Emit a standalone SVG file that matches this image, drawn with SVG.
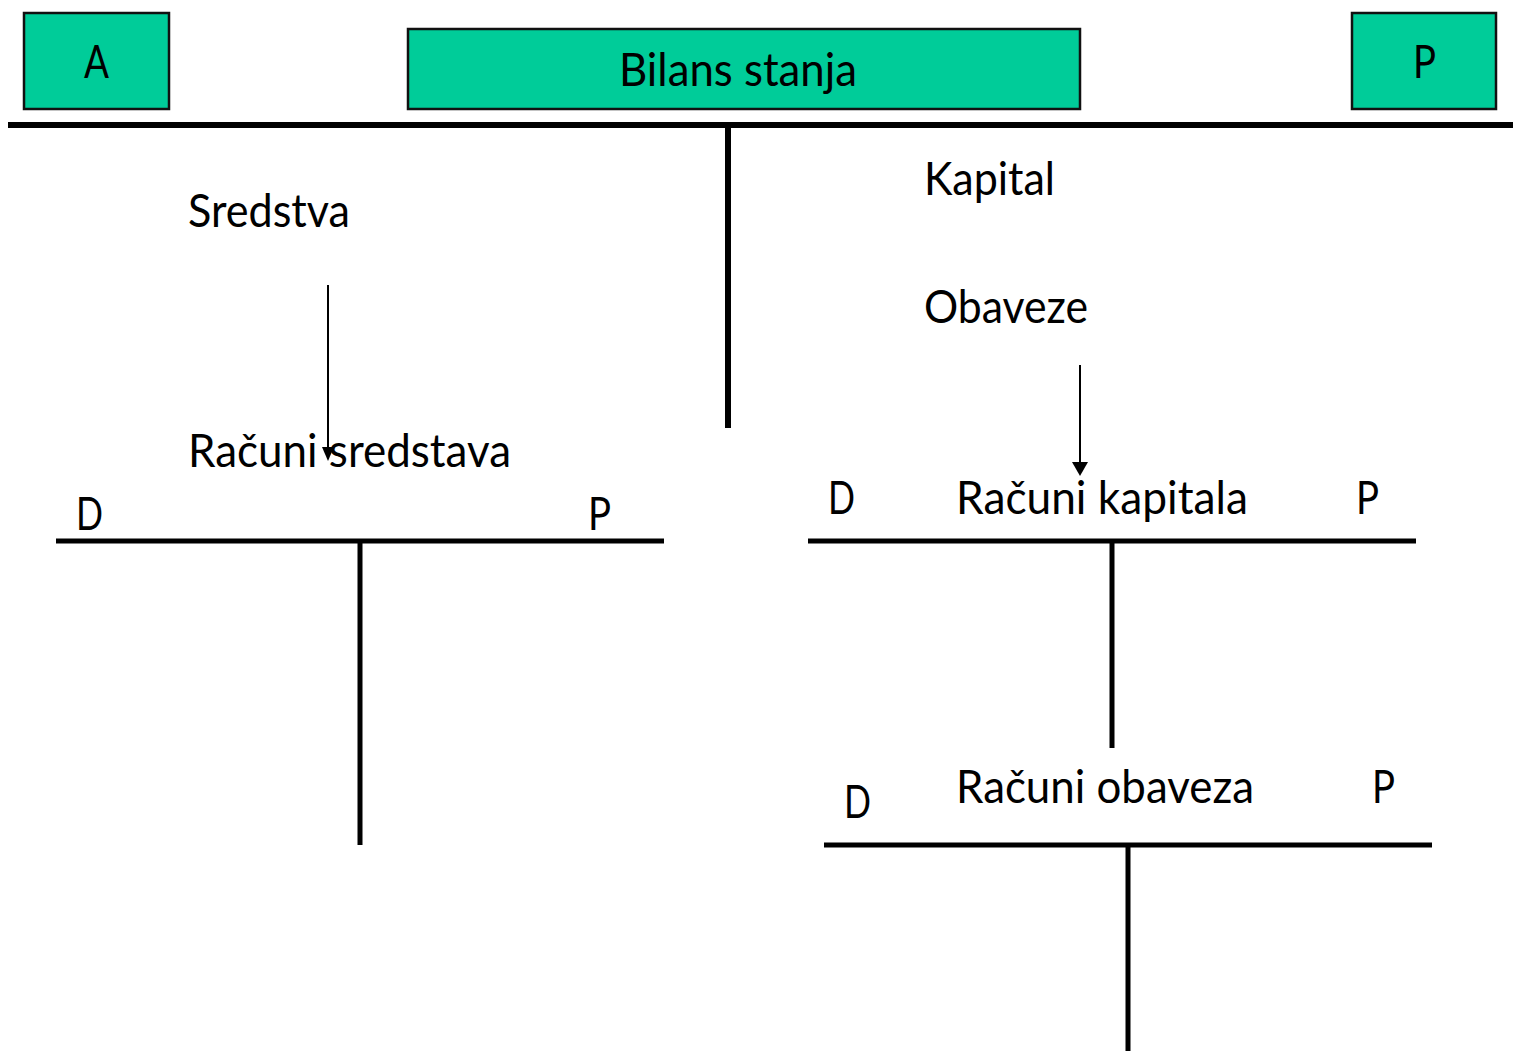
<svg xmlns="http://www.w3.org/2000/svg" width="1513" height="1051" viewBox="0 0 1513 1051">
<style>
.box{fill:#00CC99;stroke:#111;stroke-width:2.5}
.t{font-family:Lato,"Liberation Sans",sans-serif;font-size:46px;fill:#000}
.thick{stroke:#000;stroke-width:6;fill:none}
.ln{stroke:#000;stroke-width:5;fill:none}
.arr{stroke:#000;stroke-width:2;fill:none}
.head{fill:#000}
</style>
<rect width="1513" height="1051" fill="#fff"/>
<g id="nodeA">
<rect class="box" x="24" y="13" width="145" height="96"/>
<text class="t" x="84" y="78" textLength="25" lengthAdjust="spacingAndGlyphs">A</text>
</g>
<g id="nodeBilans">
<rect class="box" x="408" y="29" width="672" height="80"/>
<text class="t" x="619" y="86" textLength="238" lengthAdjust="spacingAndGlyphs">Bilans stanja</text>
</g>
<g id="nodeP">
<rect class="box" x="1352" y="13" width="144" height="96"/>
<text class="t" x="1413" y="78" textLength="23" lengthAdjust="spacingAndGlyphs">P</text>
</g>
<g id="bilansT">
<line class="thick" x1="8" y1="125" x2="1513" y2="125"/>
<line class="thick" x1="728" y1="125" x2="728" y2="428"/>
</g>
<g id="labels">
<text class="t" x="188" y="227" textLength="162" lengthAdjust="spacingAndGlyphs">Sredstva</text>
<text class="t" x="924" y="195" textLength="131" lengthAdjust="spacingAndGlyphs">Kapital</text>
<text class="t" x="924" y="323" textLength="164" lengthAdjust="spacingAndGlyphs">Obaveze</text>
</g>
<g id="accSredstva">
<text class="t" x="188" y="467" textLength="323" lengthAdjust="spacingAndGlyphs">Računi sredstava</text>
<text class="t" x="76" y="530" textLength="27" lengthAdjust="spacingAndGlyphs">D</text>
<text class="t" x="588" y="530" textLength="23" lengthAdjust="spacingAndGlyphs">P</text>
<line class="ln" x1="56" y1="541" x2="664" y2="541"/>
<line class="ln" x1="360" y1="541" x2="360" y2="845"/>
</g>
<g id="accKapital">
<text class="t" x="828" y="514" textLength="27" lengthAdjust="spacingAndGlyphs">D</text>
<text class="t" x="956" y="514" textLength="292" lengthAdjust="spacingAndGlyphs">Računi kapitala</text>
<text class="t" x="1356" y="514" textLength="23" lengthAdjust="spacingAndGlyphs">P</text>
<line class="ln" x1="808" y1="541" x2="1416" y2="541"/>
<line class="ln" x1="1112" y1="541" x2="1112" y2="748"/>
</g>
<g id="accObaveze">
<text class="t" x="844" y="818" textLength="27" lengthAdjust="spacingAndGlyphs">D</text>
<text class="t" x="956" y="803" textLength="298" lengthAdjust="spacingAndGlyphs">Računi obaveza</text>
<text class="t" x="1372" y="803" textLength="23" lengthAdjust="spacingAndGlyphs">P</text>
<line class="ln" x1="824" y1="845" x2="1432" y2="845"/>
<line class="ln" x1="1128" y1="845" x2="1128" y2="1051"/>
</g>
<g id="connectors">
<line class="arr" x1="328" y1="285" x2="328" y2="448"/>
<path class="head" d="M322,447 L334,447 L328,461 z"/>
<line class="arr" x1="1080" y1="365" x2="1080" y2="463"/>
<path class="head" d="M1072,462 L1088,462 L1080,476 z"/>
</g>
</svg>
